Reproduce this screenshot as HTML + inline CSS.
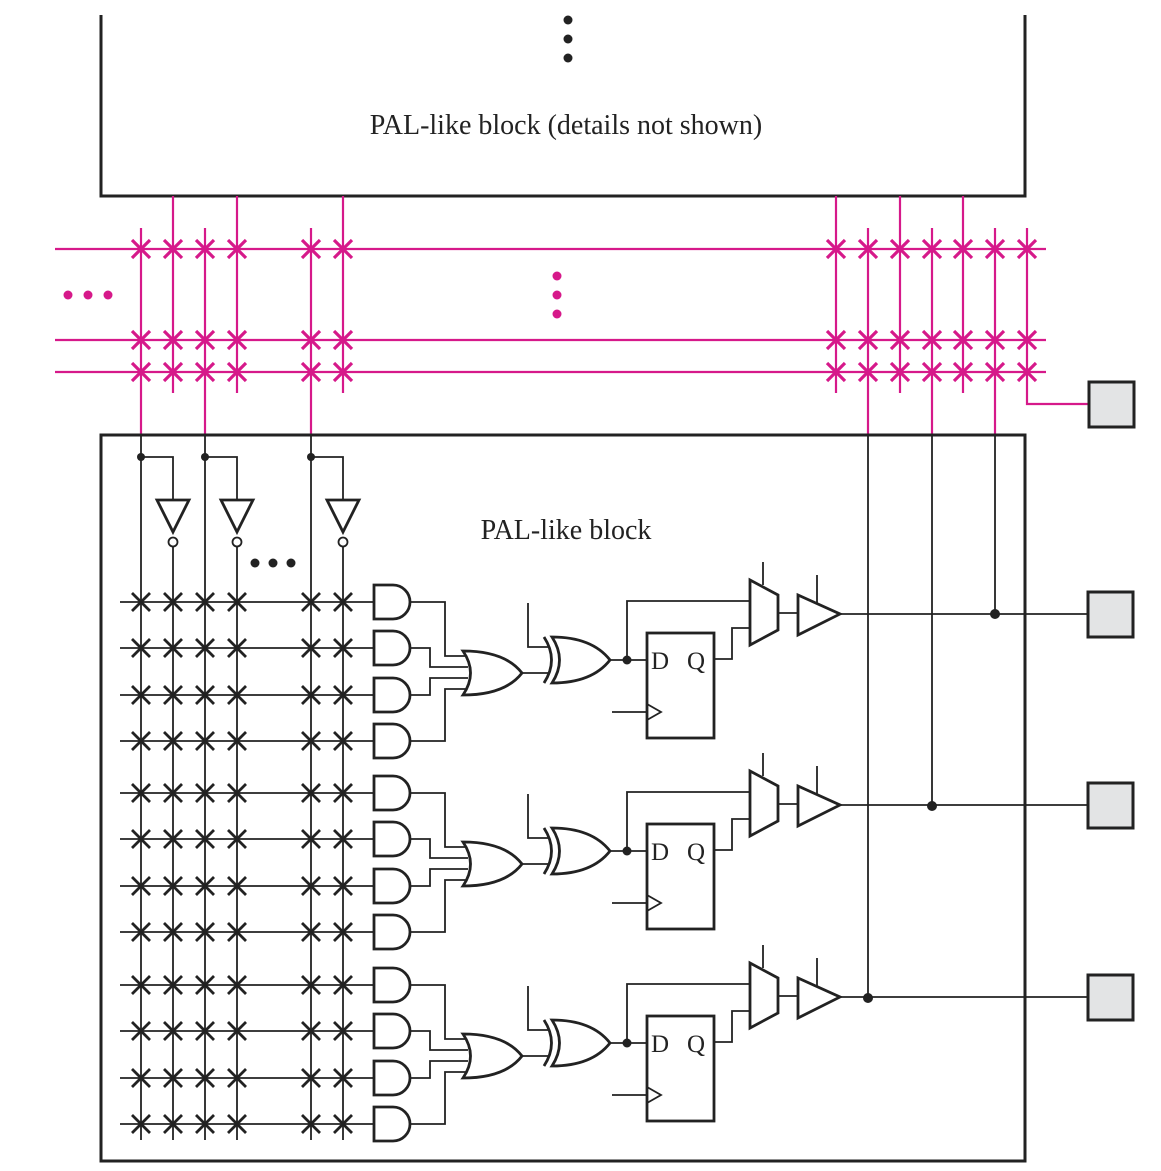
<!DOCTYPE html>
<html><head><style>html,body{margin:0;padding:0;background:#fff}svg{display:block}</style></head>
<body>
<svg width="1161" height="1171" viewBox="0 0 1161 1171" xmlns="http://www.w3.org/2000/svg">
<defs>
<path id="xm" d="M-9,-9L9,9M-9,9L9,-9" stroke="#d6198a" stroke-width="3.2" fill="none"/>
<path id="xk" d="M-9,-9L9,9M-9,9L9,-9" stroke="#222" stroke-width="2.8" fill="none"/>
<g id="mrow">
<use href="#xm" x="141"/><use href="#xm" x="173"/><use href="#xm" x="205"/><use href="#xm" x="237"/>
<use href="#xm" x="311"/><use href="#xm" x="343"/>
<use href="#xm" x="836"/><use href="#xm" x="868"/><use href="#xm" x="900"/><use href="#xm" x="932"/>
<use href="#xm" x="963"/><use href="#xm" x="995"/><use href="#xm" x="1027"/>
</g>
<g id="prow">
<line x1="120" y1="0" x2="374" y2="0" stroke="#222" stroke-width="1.8"/>
<use href="#xk" x="141"/><use href="#xk" x="173"/><use href="#xk" x="205"/><use href="#xk" x="237"/>
<use href="#xk" x="311"/><use href="#xk" x="343"/>
<path d="M374,-17H393A17,17 0 0 1 393,17H374Z" fill="#fff" stroke="#222" stroke-width="2.8"/>
</g>
<g id="blk" fill="none" stroke="#222">
<use href="#prow" y="602"/><use href="#prow" y="648"/><use href="#prow" y="695"/><use href="#prow" y="741"/>
<path d="M411,602H445V656H466M411,648H430V667H468M411,695H430V678H468M411,741H445V689H466" stroke-width="1.8"/>
<path d="M463,651Q478,673 463,695Q505,695 522,673Q505,651 463,651Z" fill="#fff" stroke-width="2.8"/>
<path d="M522,673H548M528,603V647H548" stroke-width="1.8"/>
<path d="M544,637Q559,660 544,683" stroke-width="2.8"/>
<path d="M552,637Q567,660 552,683Q592,683 610,660Q592,637 552,637Z" fill="#fff" stroke-width="2.8"/>
<path d="M610,660H647M627,660V601H750M714,659H732V628H750M612,712H647M763,562V585M778,613H798M817,575V603" stroke-width="1.8"/>
<circle cx="627" cy="660" r="4.5" fill="#222" stroke="none"/>
<rect x="647" y="633" width="67" height="105" fill="#fff" stroke-width="2.8"/>
<path d="M647,704L661,712L647,720" stroke-width="1.8"/>
<path d="M750,580L778,595L778,630L750,645Z" fill="#fff" stroke-width="2.8"/>
<path d="M798,595L840,614L798,635Z" fill="#fff" stroke-width="2.8"/>
<line x1="840" y1="614" x2="1088" y2="614" stroke-width="1.8"/>
<rect x="1088" y="592" width="45" height="45" fill="#e3e4e5" stroke-width="3"/>
<text x="651" y="669" font-family="Liberation Serif, serif" font-size="25" fill="#222" stroke="none">D</text>
<text x="687" y="669" font-family="Liberation Serif, serif" font-size="25" fill="#222" stroke="none">Q</text>
</g>
</defs>

<path d="M101,15V196H1025V15" fill="none" stroke="#222" stroke-width="3"/>
<circle cx="568" cy="20" r="4.5" fill="#222"/><circle cx="568" cy="39" r="4.5" fill="#222"/><circle cx="568" cy="58" r="4.5" fill="#222"/>
<text x="566" y="134" text-anchor="middle" font-family="Liberation Serif, serif" font-size="28" fill="#222">PAL-like block (details not shown)</text>

<g stroke="#d6198a" stroke-width="2.2" fill="none">
<path d="M55,249H1046M55,340H1046M55,372H1046"/>
<path d="M173,196V393M237,196V393M343,196V393M836,196V393M900,196V393M963,196V393"/>
<path d="M141,228V435M205,228V435M311,228V435M868,228V435M932,228V435M995,228V435"/>
<path d="M1027,228V404H1089"/>
</g>
<use href="#mrow" y="249"/><use href="#mrow" y="340"/><use href="#mrow" y="372"/>
<g fill="#d6198a">
<circle cx="68" cy="295" r="4.5"/><circle cx="88" cy="295" r="4.5"/><circle cx="108" cy="295" r="4.5"/>
<circle cx="557" cy="276" r="4.5"/><circle cx="557" cy="295" r="4.5"/><circle cx="557" cy="314" r="4.5"/>
</g>
<rect x="1089" y="382" width="45" height="45" fill="#e3e4e5" stroke="#222" stroke-width="3"/>

<rect x="101" y="435" width="924" height="726" fill="none" stroke="#222" stroke-width="3"/>
<text x="566" y="539" text-anchor="middle" font-family="Liberation Serif, serif" font-size="28" fill="#222">PAL-like block</text>

<g stroke="#222" stroke-width="1.8" fill="none">
<path d="M141,435V1140M205,435V1140M311,435V1140"/>
<path d="M141,457H173V500M205,457H237V500M311,457H343V500"/>
<path d="M173,547V1140M237,547V1140M343,547V1140"/>
<path d="M868,435V998M932,435V806M995,435V614"/>
</g>
<g fill="#fff" stroke="#222" stroke-width="2.8">
<path d="M157,500H189L173,532Z"/><path d="M221,500H253L237,532Z"/><path d="M327,500H359L343,532Z"/>
</g>
<g fill="#fff" stroke="#222" stroke-width="1.8">
<circle cx="173" cy="542" r="4.5"/><circle cx="237" cy="542" r="4.5"/><circle cx="343" cy="542" r="4.5"/>
</g>
<g fill="#222">
<circle cx="141" cy="457" r="4"/><circle cx="205" cy="457" r="4"/><circle cx="311" cy="457" r="4"/>
<circle cx="255" cy="563" r="4.5"/><circle cx="273" cy="563" r="4.5"/><circle cx="291" cy="563" r="4.5"/>
<circle cx="995" cy="614" r="5"/><circle cx="932" cy="806" r="5"/><circle cx="868" cy="998" r="5"/>
</g>

<use href="#blk"/>
<use href="#blk" y="191"/>
<use href="#blk" y="383"/>
</svg>
</body></html>
